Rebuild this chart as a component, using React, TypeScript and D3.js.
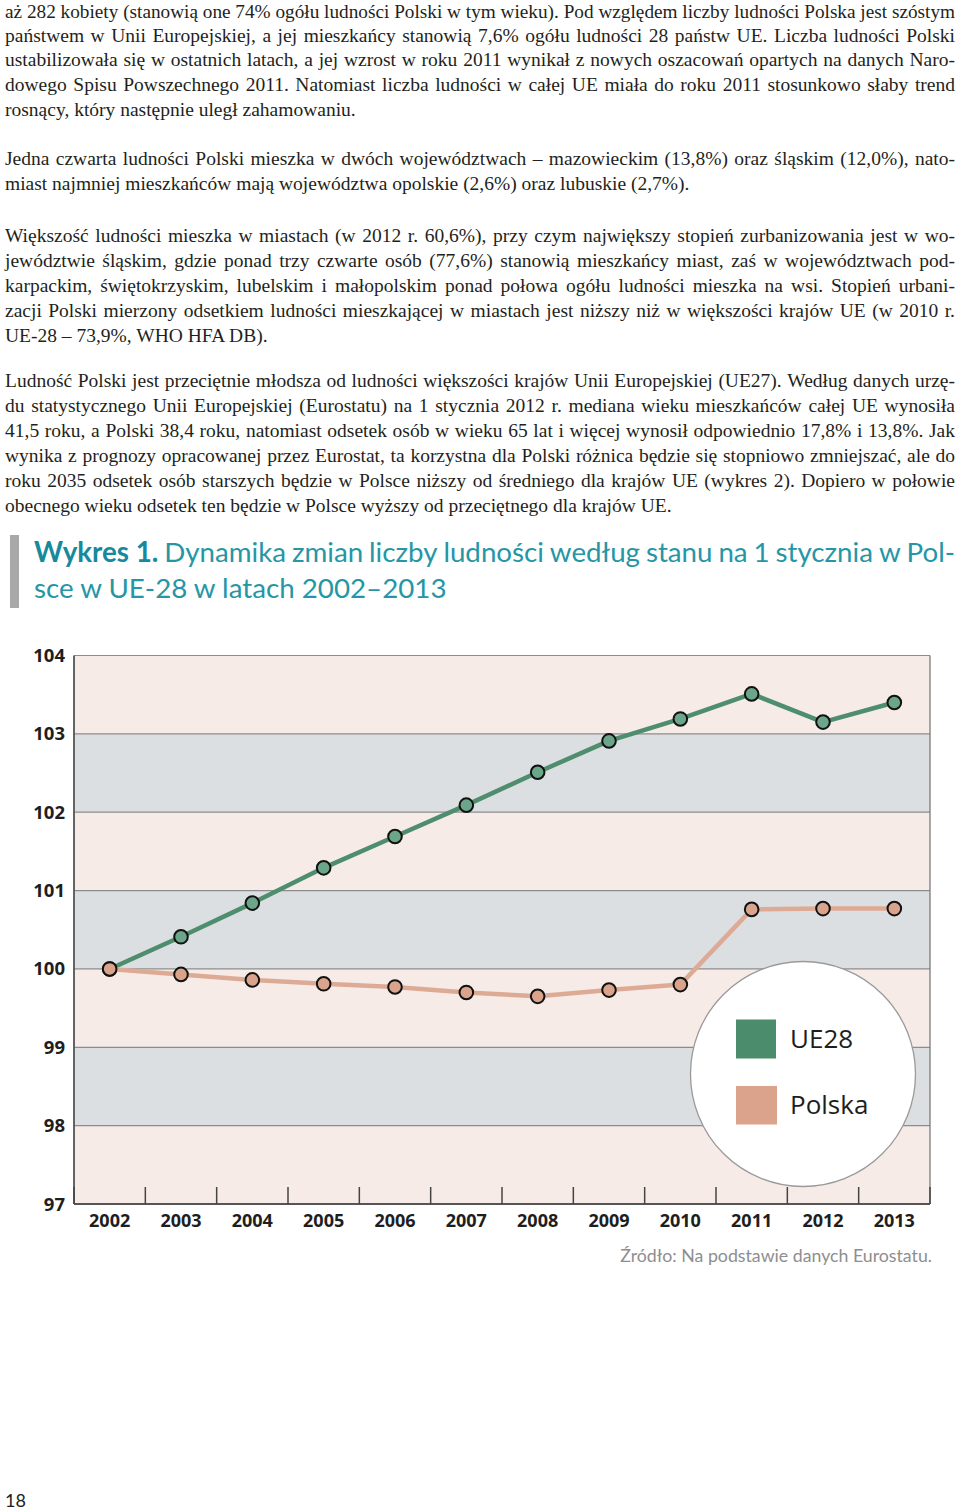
import React, { useMemo } from 'react';
import * as d3 from 'd3';

// ---------- DATA ----------
const years = ['2002', '2003', '2004', '2005', '2006', '2007', '2008', '2009', '2010', '2011', '2012', '2013'];
const ue28 = [100, 100.41, 100.84, 101.29, 101.69, 102.09, 102.51, 102.91, 103.19, 103.51, 103.15, 103.4];
const polska = [100, 99.93, 99.86, 99.81, 99.77, 99.7, 99.65, 99.73, 99.8, 100.76, 100.77, 100.77];
const yTicks = [97, 98, 99, 100, 101, 102, 103, 104];
const seriesNames = ['UE28', 'Polska'];

const titleBold = 'Wykres 1.';
const titleLine1 = 'Dynamika zmian liczby ludności według stanu na 1 stycznia w Pol-';
const titleLine2 = 'sce w UE-28 w latach 2002–2013';
const sourceText = 'Źródło: Na podstawie danych Eurostatu.';
const pageNumber = '18';

// body text lines: [text, baseline, justified]
const bodyLines: [string, number, boolean][] = [
  ['aż 282 kobiety (stanowią one 74% ogółu ludności Polski w tym wieku). Pod względem liczby ludności Polska jest szóstym', 17.5, true],
  ['państwem w Unii Europejskiej, a jej mieszkańcy stanowią 7,6% ogółu ludności 28 państw UE. Liczba ludności Polski', 41.5, true],
  ['ustabilizowała się w ostatnich latach, a jej wzrost w roku 2011 wynikał z nowych oszacowań opartych na danych Naro-', 66, true],
  ['dowego Spisu Powszechnego 2011. Natomiast liczba ludności w całej UE miała do roku 2011 stosunkowo słaby trend', 91, true],
  ['rosnący, który następnie uległ zahamowaniu.', 116, false],
  ['Jedna czwarta ludności Polski mieszka w dwóch województwach – mazowieckim (13,8%) oraz śląskim (12,0%), nato-', 165, true],
  ['miast najmniej mieszkańców mają województwa opolskie (2,6%) oraz lubuskie (2,7%).', 190, false],
  ['Większość ludności mieszka w miastach (w 2012 r. 60,6%), przy czym największy stopień zurbanizowania jest w wo-', 242, true],
  ['jewództwie śląskim, gdzie ponad trzy czwarte osób (77,6%) stanowią mieszkańcy miast, zaś w województwach pod-', 267, true],
  ['karpackim, świętokrzyskim, lubelskim i małopolskim ponad połowa ogółu ludności mieszka na wsi. Stopień urbani-', 292, true],
  ['zacji Polski mierzony odsetkiem ludności mieszkającej w miastach jest niższy niż w większości krajów UE (w 2010 r.', 317, true],
  ['UE-28 – 73,9%, WHO HFA DB).', 342, false],
  ['Ludność Polski jest przeciętnie młodsza od ludności większości krajów Unii Europejskiej (UE27). Według danych urzę-', 387, true],
  ['du statystycznego Unii Europejskiej (Eurostatu) na 1 stycznia 2012 r. mediana wieku mieszkańców całej UE wynosiła', 412, true],
  ['41,5 roku, a Polski 38,4 roku, natomiast odsetek osób w wieku 65 lat i więcej wynosił odpowiednio 17,8% i 13,8%. Jak', 437, true],
  ['wynika z prognozy opracowanej przez Eurostat, ta korzystna dla Polski różnica będzie się stopniowo zmniejszać, ale do', 462, true],
  ['roku 2035 odsetek osób starszych będzie w Polsce niższy od średniego dla krajów UE (wykres 2). Dopiero w połowie', 487, true],
  ['obecnego wieku odsetek ten będzie w Polsce wyższy od przeciętnego dla krajów UE.', 512, false],
];

// ---------- helpers ----------
let ctx: CanvasRenderingContext2D | null = null;
function measure(text: string, font: string): number {
  if (!ctx) ctx = document.createElement('canvas').getContext('2d');
  if (!ctx) return text.length * 8;
  ctx.font = font;
  return ctx.measureText(text).width;
}

const BODY_FONT_FAMILY = "'Liberation Serif', 'Times New Roman', serif";
const BODY_SIZE = 19.5;
const SANS = "Lato, 'Open Sans', sans-serif";
const CHART_FONT = "'Open Sans', sans-serif";
const MIN_GAP = 4.2;

function JustifiedLine({ text, y, justified, left, right }: { text: string; y: number; justified: boolean; left: number; right: number }) {
  const font = `${BODY_SIZE}px ${BODY_FONT_FAMILY}`;
  const words = text.split(' ');
  const common = { fontFamily: BODY_FONT_FAMILY, fontSize: BODY_SIZE, fill: '#231f20' };
  if (!justified) {
    return (
      <text x={left} y={y} {...common}>
        {text}
      </text>
    );
  }
  const widths = words.map((w) => measure(w, font));
  const total = widths.reduce((a, b) => a + b, 0);
  const avail = right - left;
  const gap = (avail - total) / (words.length - 1);
  if (gap < MIN_GAP) {
    return (
      <text x={left} y={y} textLength={avail} lengthAdjust="spacingAndGlyphs" {...common}>
        {text}
      </text>
    );
  }
  let x = left;
  return (
    <text y={y} {...common}>
      {words.map((w, i) => {
        const el = (
          <tspan key={i} x={x}>
            {w}
          </tspan>
        );
        x += widths[i] + gap;
        return el;
      })}
    </text>
  );
}

export default function App() {
  const W = 960;
  const H = 1512;

  const plotLeft = 74;
  const plotRight = 930;
  const plotTop = 655.5;
  const plotBottom = 1204;

  const x = d3.scaleBand<string>().domain(years).range([plotLeft, plotRight]);
  const y = d3.scaleLinear().domain([97, 104]).range([plotBottom, plotTop]);
  const cx = (d: string) => (x(d) as number) + x.bandwidth() / 2;

  const line = d3
    .line<number>()
    .x((_, i) => cx(years[i]))
    .y((d) => y(d));

  const greenLine = '#4e8d6d';
  const greenFill = '#6ba58a';
  const peachLine = '#ddab95';
  const peachFill = '#d9a48b';
  const legendGreen = '#4a8c6b';
  const legendPeach = '#dba38b';

  const titleSizes = useMemo(() => {
    const base = 26;
    const w2 = measure(titleLine2, `${base}px ${SANS}`);
    const size = (base * 415) / w2;
    const srcW = measure(sourceText, `18px ${SANS}`);
    const srcSize = (18 * 312) / srcW;
    return { size, srcSize };
  }, []);

  const t1Words = titleLine1.split(' ');
  const t1Font = `${titleSizes.size}px ${SANS}`;
  const t1Widths = t1Words.map((w) => measure(w, t1Font));
  const boldW = measure(titleBold, `bold ${titleSizes.size}px ${SANS}`);
  const t1Gap = (955 - 34 - boldW - t1Widths.reduce((a, b) => a + b, 0)) / t1Words.length;
  const t1x = 34 + boldW + t1Gap;

  const bands = yTicks.slice(0, -1).map((v, i) => ({ lo: v, hi: v + 1, gray: i % 2 === 1 }));
  const boundaries = d3.range(years.length + 1).map((i) => plotLeft + i * x.bandwidth());

  return (
    <svg width={W} height={H} style={{ position: 'absolute', left: 0, top: 0, background: '#fff' }}>
      <rect x={0} y={0} width={W} height={H} fill="#fff" />
      {bodyLines.map(([t, by, j], i) => (
        <JustifiedLine key={i} text={t} y={by} justified={j} left={5} right={955} />
      ))}

      <rect x={10} y={535} width={9} height={73} fill="#a9a9a9" />
      <text y={562} fontFamily={SANS} fontSize={titleSizes.size} fill="#2596a6">
        <tspan x={34} fontWeight="bold" fill="#17899c">
          {titleBold}
        </tspan>
        {(() => {
          let xx = t1x;
          return t1Words.map((w, i) => {
            const el = (
              <tspan key={i} x={xx}>
                {w}
              </tspan>
            );
            xx += t1Widths[i] + t1Gap;
            return el;
          });
        })()}
      </text>
      <text x={34} y={598} fontFamily={SANS} fontSize={titleSizes.size} fill="#2596a6">
        {titleLine2}
      </text>

      {bands.map((b, i) => (
        <rect
          key={i}
          x={plotLeft}
          y={y(b.hi)}
          width={plotRight - plotLeft}
          height={y(b.lo) - y(b.hi)}
          fill={b.gray ? '#dcdfe1' : '#f6ebe6'}
        />
      ))}
      {yTicks.map((t) => (
        <line key={t} x1={plotLeft} x2={plotRight} y1={y(t)} y2={y(t)} stroke="#8c8c8c" strokeWidth={1.2} />
      ))}
      <line x1={plotRight} x2={plotRight} y1={plotTop} y2={plotBottom} stroke="#7a7a7a" strokeWidth={1.3} />
      <line x1={plotLeft} x2={plotLeft} y1={plotTop} y2={plotBottom} stroke="#555" strokeWidth={1.8} />
      <line x1={plotLeft} x2={plotRight} y1={plotBottom} y2={plotBottom} stroke="#555" strokeWidth={1.8} />
      {boundaries.map((bx, i) => (
        <line key={i} x1={bx} x2={bx} y1={plotBottom - 17} y2={plotBottom} stroke="#444" strokeWidth={1.5} />
      ))}

      {yTicks.map((t) => (
        <text
          key={t}
          x={65}
          y={y(t) + 6.5}
          textAnchor="end"
          fontFamily={CHART_FONT}
          fontWeight="bold"
          fontSize={18.5}
          fill="#1e1e1e"
        >
          {t}
        </text>
      ))}
      {years.map((yr) => (
        <text
          key={yr}
          x={cx(yr)}
          y={1227}
          textAnchor="middle"
          fontFamily={CHART_FONT}
          fontWeight="bold"
          fontSize={18}
          fill="#1e1e1e"
        >
          {yr}
        </text>
      ))}

      <circle cx={803} cy={1074} r={112.5} fill="#fff" stroke="#9a9a9a" strokeWidth={1.3} />
      <rect x={736} y={1019.5} width={40} height={39} fill={legendGreen} />
      <rect x={736} y={1086} width={41} height={38.5} fill={legendPeach} />
      <text x={790} y={1048} fontFamily={CHART_FONT} fontSize={26} fill="#1e1e1e">
        {seriesNames[0]}
      </text>
      <text x={790} y={1114} fontFamily={CHART_FONT} fontSize={26} fill="#1e1e1e">
        {seriesNames[1]}
      </text>

      <path d={line(ue28) || ''} fill="none" stroke={greenLine} strokeWidth={4.5} strokeLinejoin="round" />
      {ue28.map((v, i) => (
        <circle key={'g' + i} cx={cx(years[i])} cy={y(v)} r={6.8} fill={greenFill} stroke="#111" strokeWidth={2} />
      ))}
      <path d={line(polska) || ''} fill="none" stroke={peachLine} strokeWidth={4.5} strokeLinejoin="round" />
      {polska.map((v, i) => (
        <circle key={'p' + i} cx={cx(years[i])} cy={y(v)} r={6.8} fill={peachFill} stroke="#111" strokeWidth={2} />
      ))}

      <text x={932} y={1262} textAnchor="end" fontFamily={SANS} fontSize={titleSizes.srcSize} fill="#8e8e8e">
        {sourceText}
      </text>

      <text x={5} y={1507} fontFamily={SANS} fontSize={18} fill="#231f20">
        {pageNumber}
      </text>
    </svg>
  );
}
